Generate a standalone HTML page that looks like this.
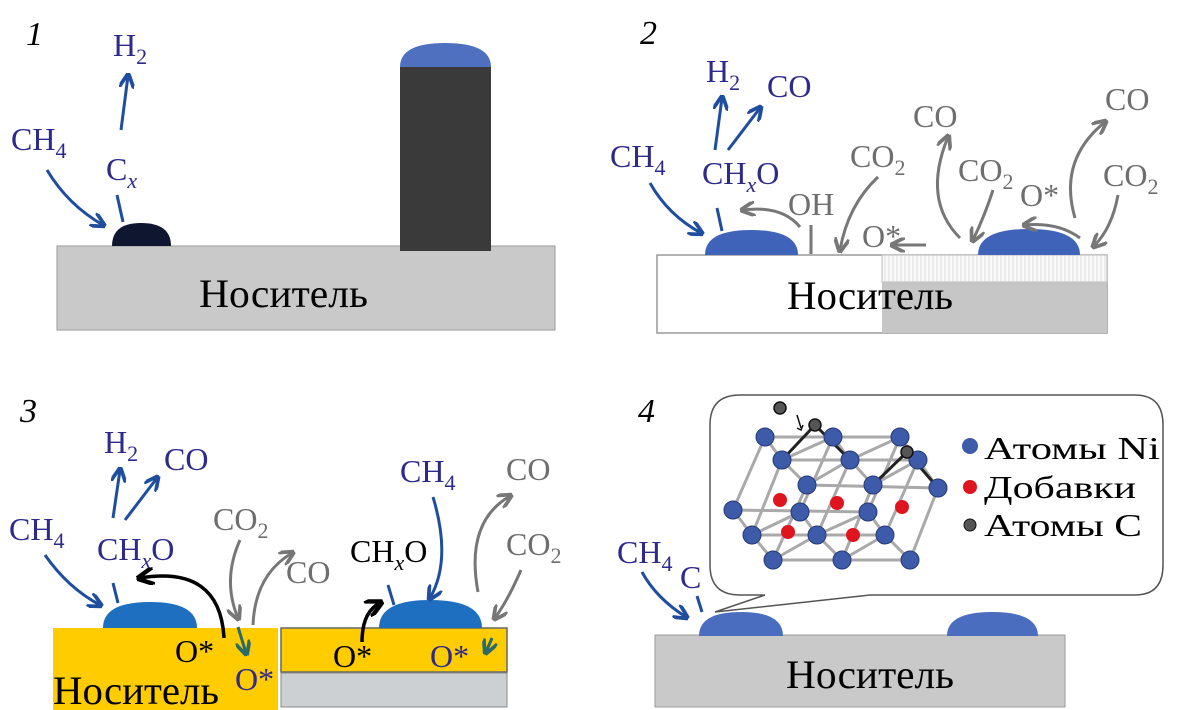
<!DOCTYPE html>
<html><head><meta charset="utf-8"><style>
html,body{margin:0;padding:0;background:#fff;}
svg{display:block;font-family:"Liberation Serif",serif;}
.b{fill:#2e2a8c;font-size:32px}
.g{fill:#6e6e6e;font-size:32px}
.k{fill:#000;font-size:32px}
.s{font-size:22px}
.n{font-size:40px;fill:#000}
.num{font-size:34px;font-style:italic;fill:#000}
</style></head><body>
<svg width="1183" height="710" viewBox="0 0 1183 710" xmlns="http://www.w3.org/2000/svg">
<defs>
<marker id="ab" viewBox="0 0 10 10" refX="8" refY="5" markerWidth="5" markerHeight="5" orient="auto"><path d="M0,0 L10,5 L0,10" fill="none" stroke="#1f4e9e" stroke-width="2.5"/></marker>
<marker id="ag" viewBox="0 0 10 10" refX="8" refY="5" markerWidth="5" markerHeight="5" orient="auto"><path d="M0,0 L10,5 L0,10" fill="none" stroke="#777" stroke-width="2.5"/></marker>
<marker id="ak" viewBox="0 0 10 10" refX="8" refY="5" markerWidth="5" markerHeight="5" orient="auto"><path d="M0,0 L10,5 L0,10" fill="none" stroke="#000" stroke-width="2.5"/></marker>
<marker id="at" viewBox="0 0 10 10" refX="8" refY="5" markerWidth="5" markerHeight="5" orient="auto"><path d="M0,0 L10,5 L0,10" fill="none" stroke="#2a6a6a" stroke-width="2.5"/></marker>
<pattern id="hatch" width="4" height="4" patternUnits="userSpaceOnUse"><rect width="4" height="4" fill="#fafafa"/><line x1="1" y1="0" x2="1" y2="4" stroke="#ddd" stroke-width="1"/></pattern>
</defs>

<!-- Panel 1 -->
<text x="26" y="45" class="num">1</text>
<rect x="57" y="246" width="498" height="84" fill="#c9c9c9" stroke="#999" stroke-width="1"/>
<path d="M400,67 Q400,43 445,43 Q491,43 491,67 Z" fill="#4f6fbf"/>
<rect x="400" y="67" width="91" height="184" fill="#3a3a3a"/>
<path d="M112,246 Q112,223 141,223 Q171,223 171,246 Z" fill="#0f1630"/>
<text x="199" y="307" class="n" textLength="169" lengthAdjust="spacingAndGlyphs">Носитель</text>
<text x="113" y="56" class="b">H<tspan class="s" dy="8">2</tspan></text>
<text x="11" y="150" class="b">CH<tspan class="s" dy="8">4</tspan></text>
<text x="106" y="180" class="b">C<tspan class="s" dy="8" font-style="italic">x</tspan></text>
<g fill="none" stroke="#1f4e9e" stroke-width="3">
<path d="M121,130 L128,76" marker-end="url(#ab)"/>
<path d="M47,170 Q68,205 103,225" marker-end="url(#ab)"/>
<path d="M117,195 L123,222"/>
</g>

<!-- Panel 2 -->
<text x="640" y="44" class="num">2</text>
<rect x="657" y="255" width="450" height="78" fill="#fff" stroke="#999" stroke-width="1.5"/>
<rect x="882" y="255" width="225" height="27" fill="url(#hatch)" stroke="#bbb" stroke-width="1"/>
<rect x="882" y="282" width="225" height="51" fill="#c6c6c6"/>
<path d="M705,255 Q705,230 751,230 Q798,230 798,255 Z" fill="#3f63b8"/>
<path d="M978,255 Q978,229 1029,229 Q1080,229 1080,255 Z" fill="#3f63b8"/>
<text x="787" y="309" class="n" textLength="166" lengthAdjust="spacingAndGlyphs">Носитель</text>
<text x="706" y="82" class="b">H<tspan class="s" dy="8">2</tspan></text>
<text x="767" y="97" class="b">CO</text>
<text x="610" y="167" class="b">CH<tspan class="s" dy="8">4</tspan></text>
<text x="702" y="184" class="b">CH<tspan class="s" dy="8" font-style="italic">x</tspan><tspan dy="-8">O</tspan></text>
<text x="788" y="215" class="g" font-size="30">OH</text>
<text x="850" y="167" class="g">CO<tspan class="s" dy="8">2</tspan></text>
<text x="862" y="247" class="g">O*</text>
<text x="913" y="127" class="g">CO</text>
<text x="958" y="181" class="g">CO<tspan class="s" dy="8">2</tspan></text>
<text x="1020" y="206" class="g">O*</text>
<text x="1105" y="110" class="g">CO</text>
<text x="1103" y="186" class="g">CO<tspan class="s" dy="8">2</tspan></text>
<g fill="none" stroke="#1f4e9e" stroke-width="3">
<path d="M715,150 L722,98" marker-end="url(#ab)"/>
<path d="M728,150 L760,108" marker-end="url(#ab)"/>
<path d="M650,183 Q668,215 701,233" marker-end="url(#ab)"/>
<path d="M717,208 L722,231"/>
</g>
<g fill="none" stroke="#777" stroke-width="3">
<path d="M800,227 Q782,205 743,210" marker-end="url(#ag)"/>
<path d="M811,225 L811,254"/>
<path d="M878,177 Q848,205 840,250" marker-end="url(#ag)"/>
<path d="M926,245 L893,245" marker-end="url(#ag)"/>
<path d="M960,238 Q922,200 948,137" marker-end="url(#ag)"/>
<path d="M993,190 Q985,215 973,240" marker-end="url(#ag)"/>
<path d="M1080,238 Q1058,222 1025,225" marker-end="url(#ag)"/>
<path d="M1075,218 Q1058,160 1105,122" marker-end="url(#ag)"/>
<path d="M1118,195 Q1112,228 1094,246" marker-end="url(#ag)"/>
</g>

<!-- Panel 3 -->
<text x="20" y="422" class="num">3</text>
<rect x="53" y="628" width="225" height="82" fill="#ffcc00"/>
<rect x="281" y="628" width="226" height="44" fill="#ffcc00" stroke="#666" stroke-width="1.5"/>
<rect x="281" y="673" width="226" height="34" fill="#cdd0d3" stroke="#888" stroke-width="1"/>
<path d="M103,628 Q103,602 150,602 Q197,602 197,628 Z" fill="#1f6fc0"/>
<path d="M379,628 Q379,600 430,600 Q482,600 482,628 Z" fill="#1f6fc0"/>
<text x="53" y="704" class="n" textLength="166" lengthAdjust="spacingAndGlyphs">Носитель</text>
<text x="104" y="453" class="b">H<tspan class="s" dy="8">2</tspan></text>
<text x="164" y="470" class="b">CO</text>
<text x="9" y="540" class="b">CH<tspan class="s" dy="8">4</tspan></text>
<text x="97" y="560" class="b">CH<tspan class="s" dy="8" font-style="italic">x</tspan><tspan dy="-8">O</tspan></text>
<text x="213" y="530" class="g">CO<tspan class="s" dy="8">2</tspan></text>
<text x="286" y="583" class="g">CO</text>
<text x="350" y="562" class="k">CH<tspan class="s" dy="8" font-style="italic">x</tspan><tspan dy="-8">O</tspan></text>
<text x="400" y="482" class="b">CH<tspan class="s" dy="8">4</tspan></text>
<text x="506" y="480" class="g">CO</text>
<text x="506" y="555" class="g">CO<tspan class="s" dy="8">2</tspan></text>
<text x="175" y="662" class="k">O*</text>
<text x="235" y="690" class="b">O*</text>
<text x="333" y="667" class="k">O*</text>
<text x="430" y="667" class="b">O*</text>
<g fill="none" stroke="#1f4e9e" stroke-width="3">
<path d="M113,518 L120,470" marker-end="url(#ab)"/>
<path d="M125,520 L157,478" marker-end="url(#ab)"/>
<path d="M45,555 Q68,588 100,605" marker-end="url(#ab)"/>
<path d="M113,583 L118,603"/>
<path d="M433,497 Q452,560 430,598" marker-end="url(#ab)"/>
<path d="M388,585 L394,605"/>
</g>
<g fill="none" stroke="#000" stroke-width="3.5">
<path d="M224,638 Q220,565 140,578" marker-end="url(#ak)"/>
<path d="M362,642 Q362,612 380,603" marker-end="url(#ak)"/>
</g>
<g fill="none" stroke="#777" stroke-width="3">
<path d="M240,540 Q222,580 238,618" marker-end="url(#ag)"/>
<path d="M253,625 Q255,575 292,553" marker-end="url(#ag)"/>
<path d="M478,592 Q465,522 510,496" marker-end="url(#ag)"/>
<path d="M521,570 Q508,600 495,618" marker-end="url(#ag)"/>
</g>
<g fill="none" stroke="#2a6a6a" stroke-width="3">
<path d="M238,627 L246,653" marker-end="url(#at)"/>
<path d="M492,638 L486,652" marker-end="url(#at)"/>
</g>

<!-- Panel 4 -->
<text x="638" y="422" class="num">4</text>
<path d="M740,395 L1135,395 Q1163,395 1163,425 L1163,565 Q1163,595 1135,595 L870,595 L715,612 L765,595 L740,595 Q710,595 710,565 L710,425 Q710,395 740,395 Z" fill="#fff" stroke="#555" stroke-width="1.5"/>
<rect x="655" y="635" width="410" height="72" fill="#c9c9c9" stroke="#999" stroke-width="1"/>
<path d="M699,636 Q699,612 741,612 Q783,612 783,636 Z" fill="#4a6dbf"/>
<path d="M947,636 Q947,612 992,612 Q1038,612 1038,636 Z" fill="#4a6dbf"/>
<text x="786" y="688" class="n" textLength="168" lengthAdjust="spacingAndGlyphs">Носитель</text>
<text x="617" y="563" class="b">CH<tspan class="s" dy="8">4</tspan></text>
<text x="680" y="588" class="b">C</text>
<g fill="none" stroke="#1f4e9e" stroke-width="3">
<path d="M642,572 Q656,598 686,617" marker-end="url(#ab)"/>
<path d="M697,596 L702,612"/>
</g>
<!-- lattice -->
<g stroke="#a9a9a9" stroke-width="3" fill="none">
<path d="M765,437 L900,437 M782,460 L918,460 M807,485 L938,488 M733,510 L868,512 M752,535 L885,535 M773,560 L910,560"/>
<path d="M765,437 L782,460 L807,485 M833,437 L850,460 L873,485 M900,437 L918,460 L938,488"/>
<path d="M733,510 L752,535 L773,560 M800,512 L817,535 L842,560 M868,512 L885,535 L910,560"/>
<path d="M765,437 L733,510 M782,460 L752,535 M807,485 L773,560 M833,437 L800,512 M850,460 L817,535 M873,485 L842,560 M900,437 L868,512 M918,460 L885,535 M938,488 L910,560"/>
<path d="M782,460 L833,437 M850,460 L900,437 M807,485 L850,460 M873,485 L918,460 M752,535 L800,512 M817,535 L868,512 M773,560 L817,535 M842,560 L885,535"/>
</g>
<g stroke="#222" stroke-width="3" fill="none">
<path d="M782,460 L815,425 L850,460 M907,452 L873,485 M907,452 L938,488"/>
</g>
<path d="M797,415 L801,428" stroke="#111" stroke-width="1.5" fill="none"/>
<path d="M797,428 L801,430 L803,425" stroke="#111" stroke-width="1.5" fill="none"/>
<g fill="#e0141e">
<circle cx="780" cy="500" r="7"/><circle cx="837" cy="503" r="7"/><circle cx="902" cy="507" r="7"/><circle cx="788" cy="532" r="7"/><circle cx="853" cy="535" r="7"/>
</g>
<g fill="#3d5ba8" stroke="#243a78" stroke-width="1">
<circle cx="765" cy="437" r="9"/><circle cx="833" cy="437" r="9"/><circle cx="900" cy="437" r="9"/>
<circle cx="782" cy="460" r="9"/><circle cx="850" cy="460" r="9"/><circle cx="918" cy="460" r="9"/>
<circle cx="807" cy="485" r="9"/><circle cx="873" cy="485" r="9"/><circle cx="938" cy="488" r="9"/>
<circle cx="733" cy="510" r="9"/><circle cx="800" cy="512" r="9"/><circle cx="868" cy="512" r="9"/>
<circle cx="752" cy="535" r="9"/><circle cx="817" cy="535" r="9"/><circle cx="885" cy="535" r="9"/>
<circle cx="773" cy="560" r="9"/><circle cx="842" cy="560" r="9"/><circle cx="910" cy="560" r="9"/>
</g>
<g fill="#555" stroke="#111" stroke-width="1.5">
<circle cx="780" cy="408" r="6"/><circle cx="815" cy="425" r="6"/><circle cx="907" cy="452" r="6"/>
</g>
<circle cx="970" cy="446" r="8" fill="#3d5ba8"/>
<circle cx="970" cy="487" r="7" fill="#e0141e"/>
<circle cx="970" cy="525" r="6" fill="#555" stroke="#111"/>
<text x="984" y="459" class="k" font-size="40" textLength="176" lengthAdjust="spacingAndGlyphs">Атомы Ni</text>
<text x="984" y="498" class="k" font-size="40" textLength="152" lengthAdjust="spacingAndGlyphs">Добавки</text>
<text x="984" y="536" class="k" font-size="40" textLength="158" lengthAdjust="spacingAndGlyphs">Атомы C</text>
</svg>
</body></html>
